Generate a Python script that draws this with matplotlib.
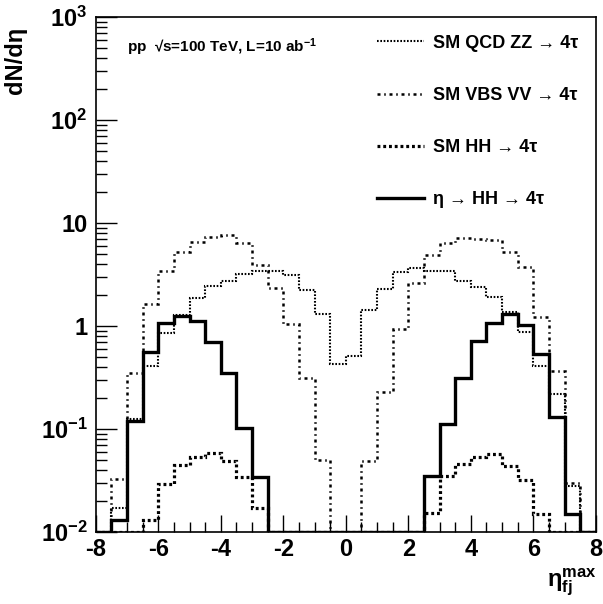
import numpy as np
import matplotlib
matplotlib.use('Agg')
import matplotlib.pyplot as plt
from matplotlib.ticker import FixedLocator, FixedFormatter, LogLocator, NullFormatter, MultipleLocator

plt.rcParams['font.family'] = ['Liberation Sans', 'DejaVu Sans']
plt.rcParams['font.weight'] = 'bold'
plt.rcParams['mathtext.fontset'] = 'custom'
plt.rcParams['mathtext.rm'] = 'Liberation Sans'
plt.rcParams['mathtext.bf'] = 'Liberation Sans:bold'
plt.rcParams['mathtext.it'] = 'Liberation Sans:italic'
plt.rcParams['axes.unicode_minus'] = False

# bin edges -8..8, width 0.5
edges = np.linspace(-8, 8, 33)

qcd_zz = [0, 0.017, 0.124, 0.41, 0.86, 1.28, 1.88, 2.46, 2.73, 3.2, 3.42, 3.4, 3.1, 2.24, 1.31, 0.43,
          0.51, 1.43, 2.27, 3.37, 3.63, 3.42, 3.42, 2.73, 2.37, 1.9, 1.38, 0.88, 0.41, 0.22, 0.028, 0]
vbs_vv = [0, 0.033, 0.35, 1.64, 3.42, 5.27, 6.6, 7.36, 7.7, 6.4, 3.9, 2.33, 1.05, 0.31, 0.05, 0,
          0, 0.049, 0.23, 0.93, 2.6, 4.9, 6.35, 7.1, 6.98, 6.8, 5.27, 3.76, 1.23, 0.37, 0.03, 0]
sm_hh = [0, 0, 0, 0.013, 0.029, 0.045, 0.054, 0.058, 0.049, 0.034, 0.017, 0, 0, 0, 0, 0,
         0, 0, 0, 0, 0, 0.0155, 0.035, 0.046, 0.053, 0.057, 0.044, 0.032, 0.015, 0, 0, 0]
signal = [0, 0.013, 0.12, 0.56, 1.07, 1.25, 1.13, 0.70, 0.35, 0.103, 0.034, 0, 0, 0, 0, 0,
          0, 0, 0, 0, 0, 0.035, 0.112, 0.31, 0.71, 1.08, 1.30, 1.02, 0.53, 0.13, 0.015, 0]

labels = ['SM QCD ZZ → 4τ', 'SM VBS VV → 4τ', 'SM HH → 4τ', 'η → HH → 4τ']

ymin = 0.01

fig = plt.figure(figsize=(6.03, 6.04), dpi=100)
ax = fig.add_axes([0.159, 0.119, 0.829, 0.853])

# empty bins drawn on the axis floor, like ROOT does
def floor(v):
    return np.clip(np.array(v, dtype=float), ymin, None)

ax.stairs(floor(qcd_zz), edges, baseline=None, color='black', lw=1.5,
          linestyle=(0, (0.8, 0.8)), label=labels[0])
ax.stairs(floor(vbs_vv), edges, baseline=None, color='black', lw=1.8,
          linestyle=(0, (1.2, 1.5, 0.6, 1.5)), label=labels[1])
ax.stairs(floor(sm_hh), edges, baseline=None, color='black', lw=2.3,
          linestyle=(0, (0.9, 0.9)), label=labels[2])
ax.stairs(floor(signal), edges, baseline=None, color='black', lw=2.4,
          linestyle='-', label=labels[3])

ax.set_yscale('log')
ax.set_xlim(-8, 8)
ax.set_ylim(ymin, 1000)

ax.yaxis.set_major_locator(FixedLocator([1e-2, 1e-1, 1, 10, 100, 1000]))
ax.yaxis.set_major_formatter(FixedFormatter(['10$^{\\mathbf{-2}}$', '10$^{\\mathbf{-1}}$', '1', '10',
                                             '10$^{\\mathbf{2}}$', '10$^{\\mathbf{3}}$']))
ax.yaxis.set_minor_locator(LogLocator(base=10, subs=np.arange(2, 10), numticks=20))
ax.yaxis.set_minor_formatter(NullFormatter())
ax.xaxis.set_major_locator(MultipleLocator(2))
ax.xaxis.set_minor_locator(MultipleLocator(0.5))

ax.tick_params(which='both', direction='in', top=False, right=False, labelsize=17, width=1)
ax.tick_params(axis='y', which='major', length=15, pad=6)
ax.tick_params(axis='y', which='minor', length=8)
ax.tick_params(axis='x', which='major', length=12, pad=4)
ax.tick_params(axis='x', which='minor', length=7)
for lab in ax.get_xticklabels() + ax.get_yticklabels():
    lab.set_fontweight('bold')
for s in ax.spines.values():
    s.set_linewidth(1.2)

ax.text(0.062, 0.942, 'pp  √s=100 TeV, L=10 ab$^{\\mathbf{-1}}$', transform=ax.transAxes,
        fontsize=11, fontweight='bold', ha='left', va='center')

leg = ax.legend(loc='upper right', bbox_to_anchor=(0.99, 0.99), frameon=False, fontsize=13,
                handlelength=2.6, handletextpad=0.5, labelspacing=1.95,
                borderaxespad=0.3)
for t in leg.get_texts():
    t.set_fontweight('bold')

fig.text(0.025, 0.955, 'dN/dη', rotation=90, ha='center', va='top', fontsize=17, fontweight='bold')
fig.text(0.99, 0.01, 'η$_{\\mathbf{fj}}^{\\mathbf{max}}$', ha='right', va='bottom', fontsize=17)

fig.savefig('out.png', dpi=100)
